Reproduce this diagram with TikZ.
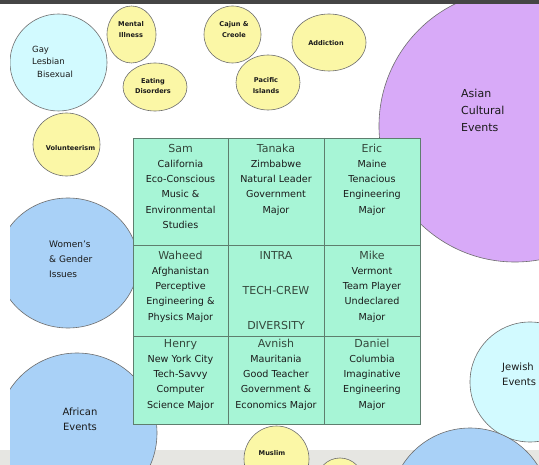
\documentclass[tikz,border=0pt]{standalone}
\usepackage{fontspec}
\setmainfont{DejaVu Sans}
\definecolor{mint}{HTML}{A7F5D6}
\definecolor{butter}{HTML}{FBF7A6}
\definecolor{skyblue}{HTML}{A9D1F7}
\definecolor{palecyan}{HTML}{D2FAFF}
\definecolor{lilac}{HTML}{D8AAF8}
\definecolor{rim}{HTML}{6E6E6E}
\definecolor{gridline}{HTML}{5E7E6E}
\definecolor{pagegray}{HTML}{E6E6E2}
\definecolor{barcol}{HTML}{454545}
\definecolor{namecol}{HTML}{34483C}
\definecolor{ink}{HTML}{1A1A1A}
\begin{document}
\begin{tikzpicture}[x=1pt,y=-1pt,
    bubble/.style={draw=rim,line width=0.6pt},
    tiny/.style={font=\bfseries\fontsize{6.6}{10.5}\selectfont,align=center,inner sep=0pt,text=ink},
    label/.style={inner sep=0pt,text=ink},
    cell/.style={anchor=north,align=center,inner sep=0pt,font=\fontsize{9.6}{15.2}\selectfont,text=ink},
    core/.style={inner sep=0pt,font=\fontsize{11}{13}\selectfont,text=namecol}]
    \def\who#1{{\fontsize{11}{15.2}\selectfont\color{namecol}#1}\strut}
    \useasboundingbox (0,0) rectangle (539,465);
    \fill[white] (0,0) rectangle (539,465);
    \fill[pagegray] (0,450) rectangle (539,465);
    % bubbles round the grid
    \begin{scope}
        \clip (10,0) rectangle (539,465);
        \path[bubble,fill=palecyan] (58.5,62.5) circle[radius=48.5pt];
        \path[bubble,fill=butter] (131.5,34.5) ellipse[x radius=24.5pt,y radius=28.5pt];
        \path[bubble,fill=butter] (155,87) ellipse[x radius=32pt,y radius=24pt];
        \path[bubble,fill=butter] (232.5,34.5) circle[radius=28.5pt];
        \path[bubble,fill=butter] (268,82.5) ellipse[x radius=32pt,y radius=27.5pt];
        \path[bubble,fill=butter] (329,42.5) ellipse[x radius=37pt,y radius=28.5pt];
        \path[bubble,fill=lilac] (515,126) circle[radius=136pt];
        \path[bubble,fill=butter] (66.5,144.5) ellipse[x radius=33.5pt,y radius=31.5pt];
        \path[bubble,fill=skyblue] (68,263) ellipse[x radius=70pt,y radius=65pt];
        \path[bubble,fill=skyblue] (77,433) circle[radius=80pt];
        \path[bubble,fill=palecyan] (530,382) circle[radius=60pt];
        \path[bubble,fill=skyblue] (470,508) circle[radius=80pt];
        \path[bubble,fill=butter] (276.5,459) ellipse[x radius=32.5pt,y radius=33pt];
        \path[bubble,fill=butter] (340,481) circle[radius=23pt];
    \end{scope}
    \node[label,anchor=west,align=left,font=\fontsize{8.5}{12.5}\selectfont] (glb) at (32,61.5) {Gay\\Lesbian\\\hspace{5pt}Bisexual};
    \node[tiny] (mental) at (131,29.5) {Mental\\Illness};
    \node[tiny] (eating) at (153,86) {Eating\\Disorders};
    \node[tiny] (cajun) at (234,29.5) {Cajun \&\\Creole};
    \node[tiny] (pacific) at (266,85.5) {Pacific\\Islands};
    \node[tiny] (addiction) at (326,43) {Addiction};
    \node[tiny] (volunteer) at (70.5,148) {Volunteerism};
    \node[label,anchor=west,align=left,font=\fontsize{11}{17}\selectfont] (asian) at (461,110) {Asian\\Cultural\\Events};
    \node[label,anchor=west,align=left,font=\fontsize{9}{15}\selectfont] (women) at (49,259) {Women's\\\& Gender\\Issues};
    \node[label,align=center,font=\fontsize{10}{15}\selectfont] (african) at (80,419.5) {African\\Events};
    \node[label,anchor=west,align=left,font=\fontsize{10}{15}\selectfont] (jewish) at (502,374) {Jewish\\Events};
    \node[tiny] (muslim) at (272,453) {Muslim};
    % the crew grid
    \fill[mint] (133,138) rectangle (420,424);
    \foreach \gx in {228,324} \draw[gridline,line width=0.8pt] (\gx,138) -- (\gx,424);
    \foreach \gy in {245,336} \draw[gridline,line width=0.8pt] (133,\gy) -- (420,\gy);
    \draw[gridline,line width=0.8pt] (133,138) rectangle (420,424);
    \node[cell] (sam) at (180.5,141.4) {\who{Sam}\\California\\Eco-Conscious\\Music \&\\Environmental\\Studies};
    \node[cell] (tanaka) at (276,141.4) {\who{Tanaka}\\Zimbabwe\\Natural Leader\\Government\\Major};
    \node[cell] (eric) at (372,141.4) {\who{Eric}\\Maine\\Tenacious\\Engineering\\Major};
    \node[cell] (waheed) at (180.5,248.4) {\who{Waheed}\\Afghanistan\\Perceptive\\Engineering \&\\Physics Major};
    \node[core] (intra) at (276,255) {INTRA};
    \node[core] (techcrew) at (276,290) {TECH-CREW};
    \node[core] (diversity) at (276,325) {DIVERSITY};
    \node[cell] (mike) at (372,248.4) {\who{Mike}\\Vermont\\Team Player\\Undeclared\\Major};
    \node[cell] (henry) at (180.5,336.4) {\who{Henry}\\New York City\\Tech-Savvy\\Computer\\Science Major};
    \node[cell] (avnish) at (276,336.4) {\who{Avnish}\\Mauritania\\Good Teacher\\Government \&\\Economics Major};
    \node[cell] (daniel) at (372,336.4) {\who{Daniel}\\Columbia\\Imaginative\\Engineering\\Major};
    \fill[barcol] (0,0) rectangle (539,4.5);
\end{tikzpicture}
\end{document}
